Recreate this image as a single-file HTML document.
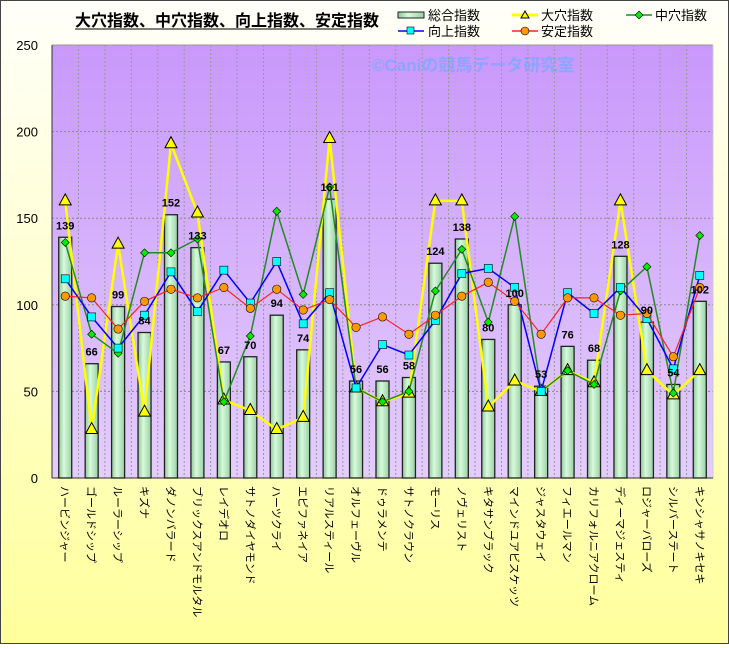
<!DOCTYPE html>
<html><head><meta charset="utf-8"><style>
html,body{margin:0;padding:0;}
body{width:729px;height:644px;overflow:hidden;font-family:"Liberation Sans","Noto Sans CJK JP",sans-serif;}
</style></head><body>
<svg id="s" width="729" height="644" xmlns="http://www.w3.org/2000/svg" font-family="Liberation Sans, Noto Sans CJK JP, sans-serif">
<defs>
<linearGradient id="bg" x1="0" y1="0" x2="0" y2="1"><stop offset="0" stop-color="#fffffa"/><stop offset="1" stop-color="#ffff9c"/></linearGradient>
<linearGradient id="pl" x1="0" y1="0" x2="0" y2="1"><stop offset="0" stop-color="#c998fb"/><stop offset="1" stop-color="#e4cdfd"/></linearGradient>
<linearGradient id="bar" x1="0" y1="0" x2="1" y2="0"><stop offset="0" stop-color="#8fc79a"/><stop offset="0.4" stop-color="#d8fadc"/><stop offset="1" stop-color="#98d0a4"/></linearGradient>
</defs>
<rect x="0.5" y="0.5" width="728" height="643" fill="url(#bg)" stroke="#444"/>
<rect x="52" y="45" width="661" height="433" fill="url(#pl)"/>
<text x="372" y="71" font-size="17" font-weight="bold" fill="#8aa6ff">©Caniの競馬データ研究室</text>
<g id="g"></g>
<text x="75" y="26" font-size="16" font-weight="bold" fill="#000">大穴指数、中穴指数、向上指数、安定指数</text>
<line x1="75" y1="29" x2="362" y2="29" stroke="#000" stroke-width="1"/>
<!-- legend -->
<rect x="398" y="12" width="26" height="6" fill="url(#bar)" stroke="#222"/>
<text x="428" y="20" font-size="13">総合指数</text>
<line x1="512" y1="15" x2="538" y2="15" stroke="#ffff00" stroke-width="3"/>
<polygon points="525,11 529,18 521,18" fill="#ffff00" stroke="#000"/>
<text x="541" y="20" font-size="13">大穴指数</text>
<line x1="626" y1="15" x2="652" y2="15" stroke="#228b22" stroke-width="1.5"/>
<polygon points="639,11 643,15 639,19 635,15" fill="#00ee00" stroke="#000" stroke-width="0.6"/>
<text x="655" y="20" font-size="13">中穴指数</text>
<line x1="398" y1="31" x2="424" y2="31" stroke="#0000ff" stroke-width="1.5"/>
<rect x="407" y="27" width="7" height="7" fill="#00ffff" stroke="#000" stroke-width="0.6"/>
<text x="428" y="36" font-size="13">向上指数</text>
<line x1="512" y1="31" x2="538" y2="31" stroke="#ff2020" stroke-width="1.5"/>
<circle cx="525" cy="31" r="4" fill="#ff9900" stroke="#000" stroke-width="0.6"/>
<text x="541" y="36" font-size="13">安定指数</text>
</svg>
<script>
var names=["ハービンジャー","ゴールドシップ","ルーラーシップ","キズナ","ダノンバラード","ブリックスアンドモルタル","レイデオロ","サトノダイヤモンド","ハーツクライ","エピファネイア","リアルスティール","オルフェーヴル","ドゥラメンテ","サトノクラウン","モーリス","ノヴェリスト","キタサンブラック","マインドユアビスケッツ","ジャスタウェイ","フィエールマン","カリフォルニアクローム","ディーマジェスティ","ロジャーバローズ","シルバーステート","キンシャサノキセキ"];
var tot=[139,66,99,84,152,133,67,70,94,74,161,56,56,58,124,138,80,100,53,76,68,128,90,54,102];
var yel=[160,28,135,38,193,153,45,39,28,35,196,52,44,49,160,160,41,56,50,62,55,160,62,48,62];
var grn=[136,83,72,130,130,138,44,82,154,106,168,52,44,50,108,132,90,151,50,62,54,108,122,49,140];
var blu=[115,93,75,94,119,96,120,101,125,89,107,52,77,71,91,118,121,110,50,107,95,110,92,63,117];
var red=[105,104,86,102,109,104,110,98,109,97,103,87,93,83,94,105,113,102,83,104,104,94,95,70,110];
var L=52,T=45,B=478,W=661,n=25,cw=W/n;
function X(i){return L+cw*(i+0.5);} function Y(v){return B-v*(B-T)/250;}
var h="";
for(var k=1;k<5;k++){var y=Y(k*50);h+='<line x1="'+L+'" y1="'+y+'" x2="'+(L+W)+'" y2="'+y+'" stroke="#888" stroke-dasharray="2,2"/>';}
for(var i=1;i<n;i++){var x=L+cw*i;h+='<line x1="'+x+'" y1="'+T+'" x2="'+x+'" y2="'+B+'" stroke="#999" stroke-dasharray="2,2"/>';}
h+='<line x1="'+L+'" y1="'+T+'" x2="'+(L+W)+'" y2="'+T+'" stroke="#999"/><line x1="'+(L+W)+'" y1="'+T+'" x2="'+(L+W)+'" y2="'+B+'" stroke="#ccc"/>';
h+='<line x1="'+L+'" y1="'+T+'" x2="'+L+'" y2="'+B+'" stroke="#333"/><line x1="'+L+'" y1="'+B+'" x2="'+(L+W)+'" y2="'+B+'" stroke="#333"/>';
for(var k=0;k<=5;k++){h+='<text x="38" y="'+(Y(k*50)+5)+'" font-size="13" text-anchor="end">'+(k*50)+'</text>';}
for(var i=0;i<n;i++){var x=X(i);h+='<rect x="'+(x-6.5)+'" y="'+Y(tot[i])+'" width="13" height="'+(B-Y(tot[i]))+'" fill="url(#bar)" stroke="#222" stroke-width="1.3"/>';}
function line(a,c,w){var p=a.map(function(v,i){return X(i).toFixed(1)+','+Y(v).toFixed(1)}).join(' ');return '<polyline points="'+p+'" fill="none" stroke="'+c+'" stroke-width="'+w+'"/>';}
h+=line(yel,"#ffff00",2.5);
for(var i=0;i<n;i++){var x=X(i),y=Y(yel[i]);h+='<polygon points="'+x+','+(y-7)+' '+(x+6)+','+(y+4)+' '+(x-6)+','+(y+4)+'" fill="#ffff00" stroke="#000"/>';}
h+=line(grn,"#228b22",1.5);
for(var i=0;i<n;i++){var x=X(i),y=Y(grn[i]);h+='<polygon points="'+x+','+(y-4)+' '+(x+4)+','+y+' '+x+','+(y+4)+' '+(x-4)+','+y+'" fill="#00ee00" stroke="#000" stroke-width="0.6"/>';}
h+=line(blu,"#0000ff",1.5);
for(var i=0;i<n;i++){var x=X(i),y=Y(blu[i]);h+='<rect x="'+(x-4)+'" y="'+(y-4)+'" width="8" height="8" fill="#00ffff" stroke="#000" stroke-width="0.6"/>';}
h+=line(red,"#ff2020",1.2);
for(var i=0;i<n;i++){var x=X(i),y=Y(red[i]);h+='<circle cx="'+x+'" cy="'+y+'" r="4.2" fill="#ff9900" stroke="#000" stroke-width="0.6"/>';}
for(var i=0;i<n;i++){h+='<text x="'+X(i)+'" y="'+(Y(tot[i])-8)+'" font-size="11" font-weight="bold" text-anchor="middle">'+tot[i]+'</text>';}
for(var i=0;i<n;i++){var x=X(i)-4;h+='<text transform="translate('+x+',486) rotate(90)" font-size="11">'+names[i]+'</text>';}
document.getElementById("g").innerHTML=h;
</script>
</body></html>
